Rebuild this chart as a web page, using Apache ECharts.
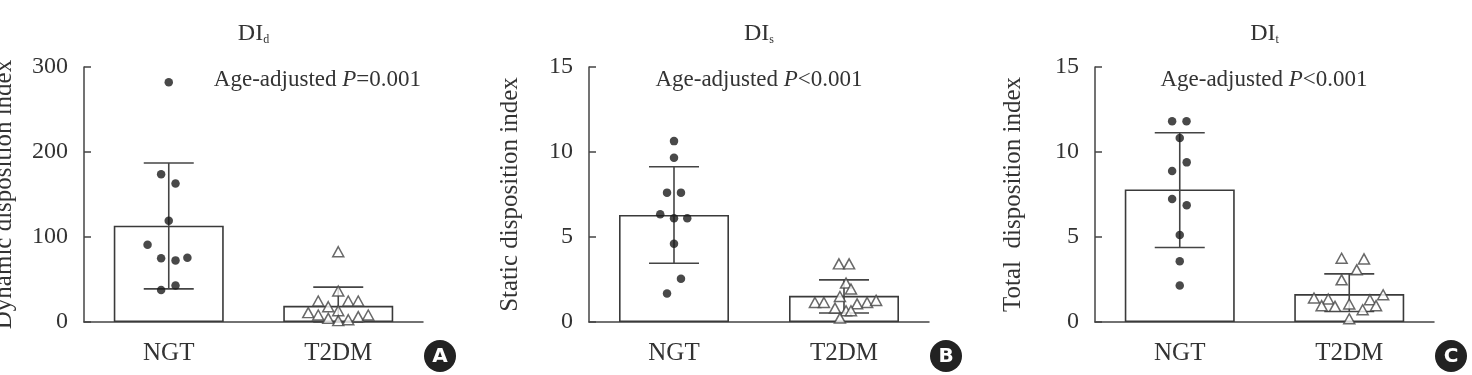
<!DOCTYPE html>
<html>
<head>
<meta charset="utf-8">
<script src="https://cdn.jsdelivr.net/npm/echarts@6/dist/echarts.min.js"></script>
<style>
  html, body { margin: 0; padding: 0; background: #fff; }
  #chart { width: 1472px; height: 375px; }
</style>
</head>
<body>
<div id="chart"></div>
<script>
// groups on the x axis
const categories = ["NGT", "T2DM"];

// A: dynamic disposition index
const meansA = [113.3, 19];
const errLowA = [39, 0];
const errHighA = [187, 41];
const ngtA = [282, 173.7, 163, 119, 91, 75, 72.5, 75.7, 43, 37.6];
const ngtJitterA = [0, -0.045, 0.04, 0, -0.125, -0.045, 0.04, 0.11, 0.04, -0.045];
const t2dmA = [82.7, 36.5, 24.7, 24.7, 24.7, 18, 13.3, 11, 8.2, 4.3, 1.6, 2.7, 6.3, 8.2];
const t2dmJitterA = [0, 0, -0.118, 0.059, 0.118, -0.059, 0, -0.177, -0.118, -0.059, 0, 0.059, 0.118, 0.177];

// B: static disposition index
const meansB = [6.3, 1.54];
const errLowB = [3.46, 0.53];
const errHighB = [9.13, 2.48];
const ngtB = [10.64, 9.66, 7.61, 7.61, 6.34, 6.1, 6.1, 4.6, 2.54, 1.68];
const ngtJitterB = [0, 0, -0.041, 0.041, -0.081, 0, 0.078, 0, 0.041, -0.041];
const t2dmB = [3.42, 3.42, 2.29, 1.94, 1.5, 1.15, 1.15, 1.15, 1.27, 1.07, 0.82, 0.66, 0.66, 0.23];
const t2dmJitterB = [-0.03, 0.03, 0.012, 0.041, -0.024, -0.171, -0.118, 0.136, 0.189, 0.077, -0.053, 0.012, 0.041, -0.024];

// C: total disposition index
const meansC = [7.8, 1.64];
const errLowC = [4.38, 0.62];
const errHighC = [11.13, 2.83];
const ngtC = [11.81, 11.81, 10.83, 9.39, 8.88, 7.24, 6.87, 5.12, 3.58, 2.15];
const ngtJitterC = [-0.045, 0.04, 0, 0.041, -0.045, -0.045, 0.041, 0, 0, 0];
const t2dmC = [3.75, 3.71, 3.07, 2.48, 1.6, 1.41, 1.35, 1.31, 0.96, 0.92, 1.06, 0.96, 0.72, 0.19];
const t2dmJitterC = [-0.045, 0.087, 0.044, -0.045, 0.2, -0.208, -0.124, 0.122, -0.163, -0.084, 0, 0.158, 0.079, 0];

const yTicksA = { min: 0, max: 300, interval: 100 };
const yTicksB = { min: 0, max: 15, interval: 5 };
const yTicksC = { min: 0, max: 15, interval: 5 };

const panels = [
  { name: "Dynamic disposition index", sub: "d", pText: "=0.001", means: meansA, lo: errLowA, hi: errHighA,
    ngt: ngtA, ngtJ: ngtJitterA, t2: t2dmA, t2J: t2dmJitterA, ticks: yTicksA,
    left: 84, width: 339, nameGap: 67, pX: 421, pAlign: "right", badge: "A", badgeX: 440 },
  { name: "Static disposition index", sub: "s", pText: "<0.001", means: meansB, lo: errLowB, hi: errHighB,
    ngt: ngtB, ngtJ: ngtJitterB, t2: t2dmB, t2J: t2dmJitterB, ticks: yTicksB,
    left: 589, width: 340, nameGap: 66, pX: 759, pAlign: "center", badge: "B", badgeX: 946 },
  { name: "Total  disposition index", sub: "t", pText: "<0.001", means: meansC, lo: errLowC, hi: errHighC,
    ngt: ngtC, ngtJ: ngtJitterC, t2: t2dmC, t2J: t2dmJitterC, ticks: yTicksC,
    left: 1095, width: 339, nameGap: 69, pX: 1264, pAlign: "center", badge: "C", badgeX: 1451 },
];

const serif = "'Liberation Serif', 'DejaVu Serif', serif";
const ink = "#333";
const lineCol = "#444";

//误差线
function whisker(params, api) {
  const x = api.value(0);
  const pLo = api.coord([x, api.value(1)]);
  const pHi = api.coord([x, api.value(2)]);
  const half = 25;
  const st = { stroke: lineCol, lineWidth: 1.6 };
  return {
    type: "group",
    children: [
      { type: "line", shape: { x1: pLo[0], y1: pLo[1], x2: pHi[0], y2: pHi[1] }, style: st },
      { type: "line", shape: { x1: pHi[0] - half, y1: pHi[1], x2: pHi[0] + half, y2: pHi[1] }, style: st },
      { type: "line", shape: { x1: pLo[0] - half, y1: pLo[1], x2: pLo[0] + half, y2: pLo[1] }, style: st },
    ],
  };
}

let grid = [], xAxis = [], yAxis = [], series = [], graphic = [];

panels.forEach((p, k) => {
  grid.push({ left: p.left, width: p.width, top: 67, height: 255, containLabel: false, outerBoundsMode: "none" });
  xAxis.push({
    type: "category", gridIndex: k, data: categories,
    axisLine: { onZero: false, lineStyle: { color: lineCol, width: 1.5 } },
    axisTick: { show: false },
    axisLabel: { fontFamily: serif, fontSize: 25, color: ink, margin: 19 },
  });
  xAxis.push({ type: "value", gridIndex: k, min: -0.5, max: 1.5, show: false });
  yAxis.push({
    type: "value", gridIndex: k, min: p.ticks.min, max: p.ticks.max, interval: p.ticks.interval,
    name: p.name, nameLocation: "middle", nameGap: p.nameGap, nameRotate: 90,
    nameTextStyle: { fontFamily: serif, fontSize: 25, color: ink },
    axisLine: { show: true, onZero: false, lineStyle: { color: lineCol, width: 1.5 } },
    axisTick: { show: true, inside: true, length: 7, lineStyle: { color: lineCol, width: 1.5 } },
    axisLabel: { fontFamily: serif, fontSize: 24, color: ink, margin: 16 },
    splitLine: { show: false },
  });

  series.push({
    type: "bar", xAxisIndex: 2 * k, yAxisIndex: k, data: p.means, barWidth: 110, z: 2,
    itemStyle: { color: "#fff", borderColor: "#3a3a3a", borderWidth: 1.6 },
  });
  series.push({
    type: "custom", xAxisIndex: 2 * k + 1, yAxisIndex: k, z: 3, renderItem: whisker,
    data: categories.map((c, i) => [i, p.lo[i], p.hi[i]]),
  });
  series.push({
    type: "scatter", xAxisIndex: 2 * k + 1, yAxisIndex: k, z: 4, symbol: "circle", symbolSize: 8.5,
    itemStyle: { color: "#1c1c1c" },
    data: p.ngt.map((v, i) => [0 + p.ngtJ[i], v]),
  });
  series.push({
    type: "scatter", xAxisIndex: 2 * k + 1, yAxisIndex: k, z: 5, symbol: "triangle", symbolSize: [11, 10],
    itemStyle: { color: "#fff", borderColor: lineCol, borderWidth: 1.5 },
    data: p.t2.map((v, i) => [1 + p.t2J[i], v]),
  });

  const cx = p.left + p.width / 2;
  graphic.push({
    type: "text", x: cx, y: 32,
    style: {
      text: "{m|DI}{s|" + p.sub + "}", align: "center", verticalAlign: "middle",
      textAlign: "center", textVerticalAlign: "middle",
      rich: {
        m: { fontFamily: serif, fontSize: 24, fill: ink, lineHeight: 28, verticalAlign: "bottom" },
        s: { fontFamily: serif, fontSize: 12, fill: ink, lineHeight: 17, verticalAlign: "bottom" },
      },
    },
  });
  graphic.push({
    type: "text", x: p.pX, y: 80,
    style: {
      text: "{n|Age-adjusted }{i|P}{n|" + p.pText + "}", align: p.pAlign, verticalAlign: "middle",
      textAlign: p.pAlign, textVerticalAlign: "middle",
      rich: {
        n: { fontFamily: serif, fontSize: 23, fill: ink },
        i: { fontFamily: serif, fontSize: 23, fontStyle: "italic", fill: ink },
      },
    },
  });
  graphic.push({ type: "circle", shape: { cx: p.badgeX, cy: 356, r: 16 }, style: { fill: "#222" } });
  graphic.push({
    type: "text", x: p.badgeX, y: 357,
    style: {
      text: p.badge, fill: "#fff", font: "bold 20px 'DejaVu Sans', sans-serif",
      align: "center", verticalAlign: "middle", textAlign: "center", textVerticalAlign: "middle",
    },
  });
});

const myChart = echarts.init(document.getElementById("chart"), null, { renderer: "canvas" });
myChart.setOption({
  animation: false,
  backgroundColor: "#fff",
  grid, xAxis, yAxis, series, graphic,
});
</script>
</body>
</html>
